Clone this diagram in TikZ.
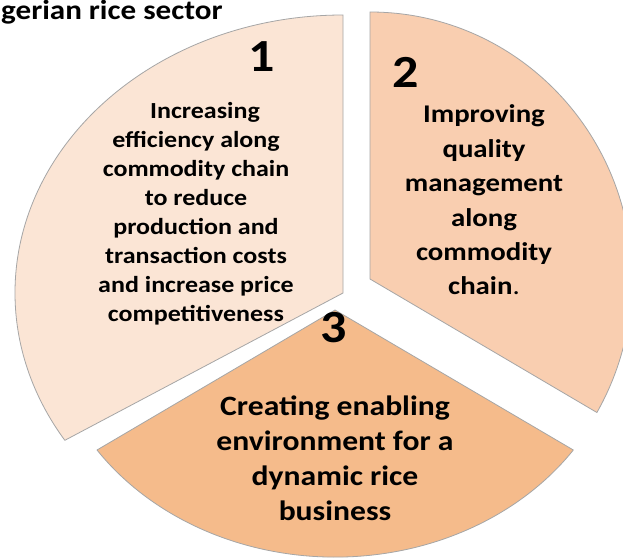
\documentclass[tikz,border=0pt]{standalone}
\usepackage{fontspec}
\newfontfamily\piefont[FakeStretch=1.13]{Carlito}
\definecolor{slicea}{HTML}{FBE5D5}
\definecolor{sliceb}{HTML}{F9CEB0}
\definecolor{slicec}{HTML}{F5BB8B}
\definecolor{rim}{HTML}{A6A6A6}

\begin{document}
\begin{tikzpicture}[x=1pt,y=1pt,
  sector/.style={draw=rim, line width=0.8pt, line join=round},
  num/.style={font=\piefont\bfseries\fontsize{46}{46}\selectfont, inner sep=0pt, anchor=base},
  txt/.style={align=center, inner sep=0pt}]
\clip (0,0) rectangle (623,-559);
\fill[white] (0,0) rectangle (623,-559);
\draw[sector, fill=slicea] (343,-293) -- (343,-15) arc[start angle=90, end angle=212, x radius=328, y radius=278] -- cycle;
\draw[sector, fill=sliceb] (370,-279) -- (370,-12) arc[start angle=90, end angle=-30, x radius=262, y radius=267] -- cycle;
\draw[sector, fill=slicec] (335,-310) -- (97,-450) arc[start angle=214.5, end angle=325.5, x radius=289, y radius=247] -- cycle;
\node[font=\piefont\bfseries\fontsize{27.5}{30}\selectfont, inner sep=0pt, anchor=base west] (Title) at (1,-20) {gerian rice sector};
\node[num] (N1) at (262,-72) {1};
\node[num] (N2) at (406,-88) {2};
\node[num] (N3) at (334,-342) {3};
\node[txt, font=\piefont\bfseries\fontsize{23}{29}\selectfont] (T1) at (196,-214)
  {\hspace*{18pt}Increasing\\ efficiency along\\ commodity chain\\ to reduce\\ production and\\ transaction costs\\ and increase price\\ competitiveness};
\node[txt, font=\piefont\bfseries\fontsize{25.5}{34.4}\selectfont] (T2) at (484,-200)
  {Improving\\ quality\\ management\\ along\\ commodity\\ chain{\mdseries .}};
\node[txt, font=\piefont\bfseries\fontsize{28}{35}\selectfont] (T3) at (335,-458)
  {Creating enabling\\ environment for a\\ dynamic rice\\ business};
\end{tikzpicture}
\end{document}
